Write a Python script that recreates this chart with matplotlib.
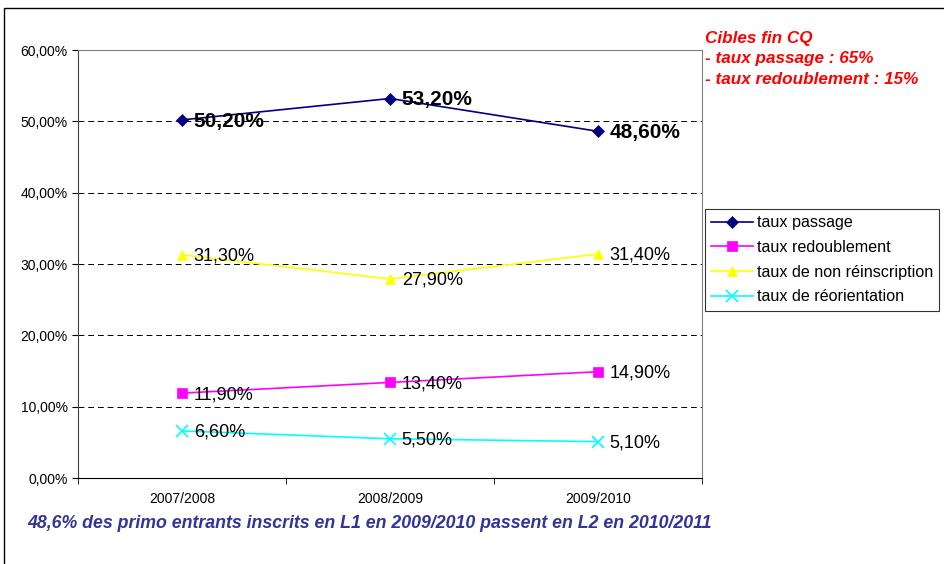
import matplotlib.pyplot as plt
from matplotlib.ticker import FuncFormatter
from matplotlib.patches import Rectangle

plt.rcParams['font.family'] = ['Liberation Sans', 'DejaVu Sans']

years = ["2007/2008", "2008/2009", "2009/2010"]
passage = [50.2, 53.2, 48.6]
redoublement = [11.9, 13.4, 14.9]
non_reinscription = [31.3, 27.9, 31.4]
reorientation = [6.6, 5.5, 5.1]

series = [
    ("taux passage", passage, "#000080", "D", 6, True),
    ("taux redoublement", redoublement, "#FF00FF", "s", 7, False),
    ("taux de non réinscription", non_reinscription, "#FFFF00", "^", 7, False),
    ("taux de réorientation", reorientation, "#00FFFF", "x", 8, False),
]

fig = plt.figure(figsize=(9.44, 5.64), dpi=100)
ax = fig.add_axes([78/944, 1 - 478/564, 624/944, 428/564])

# outer frame
fig.patches.append(Rectangle((4/944, -0.1), 1.2, 1 - 8/564 + 0.1,
                             transform=fig.transFigure, fill=False,
                             edgecolor="black", linewidth=1))

x = list(range(len(years)))
for name, vals, col, mk, ms, bold in series:
    ax.plot(x, vals, color=col, marker=mk, markersize=ms, linewidth=1.2,
            label=name, markeredgewidth=1.2 if mk == "x" else 0.5)
    for xi, v in zip(x, vals):
        lab = ("%.2f%%" % v).replace(".", ",")
        ax.annotate(lab, (xi, v), xytext=(8.5, -1), textcoords="offset points",
                    va="center", ha="left",
                    fontsize=15 if bold else 13,
                    fontweight="bold" if bold else "normal")

ax.set_xlim(-0.5, 2.5)
ax.set_ylim(0, 60)
ax.set_yticks(range(0, 61, 10))
ax.yaxis.set_major_formatter(FuncFormatter(lambda v, p: ("%.2f%%" % v).replace(".", ",")))
ax.set_xticks(x)
ax.set_xticklabels(years)
ax.set_xticks([-0.5, 0.5, 1.5, 2.5], minor=True)
ax.tick_params(axis="x", which="major", length=0, pad=10, labelsize=10)
ax.tick_params(axis="x", which="minor", length=4, direction="out")
ax.tick_params(axis="y", length=4, direction="out", labelsize=10)
for yv in range(10, 60, 10):
    ax.axhline(yv, color="black", linestyle=(0, (6, 4)), linewidth=0.7, zorder=0)

ax.spines["top"].set_color("#808080")
ax.spines["right"].set_color("#808080")
ax.spines["left"].set_color("#404040")
ax.spines["bottom"].set_color("black")

leg = fig.legend(loc="upper left", bbox_to_anchor=(705/944, 1 - 209/564),
                 fontsize=11.6, frameon=True, fancybox=False, edgecolor="black",
                 borderaxespad=0, handlelength=2.6, borderpad=0.4,
                 labelspacing=0.6, handletextpad=0.2)
leg.get_frame().set_linewidth(0.8)

fig.text(705/944, 1 - 38/564, "Cibles fin CQ", color="red", fontsize=12.3,
         fontweight="bold", fontstyle="italic", va="center")
fig.text(705/944, 1 - 59/564, "- taux passage : 65%", color="red", fontsize=12.3,
         fontweight="bold", fontstyle="italic", va="center")
fig.text(705/944, 1 - 80/564, "- taux redoublement : 15%", color="red", fontsize=12.3,
         fontweight="bold", fontstyle="italic", va="center")

fig.text(27/944, 1 - 524/564,
         "48,6% des primo entrants inscrits en L1 en 2009/2010 passent en L2 en 2010/2011",
         color="#333399", fontsize=12.8, fontweight="bold", fontstyle="italic",
         va="center")

fig.savefig("out.png", dpi=100)
